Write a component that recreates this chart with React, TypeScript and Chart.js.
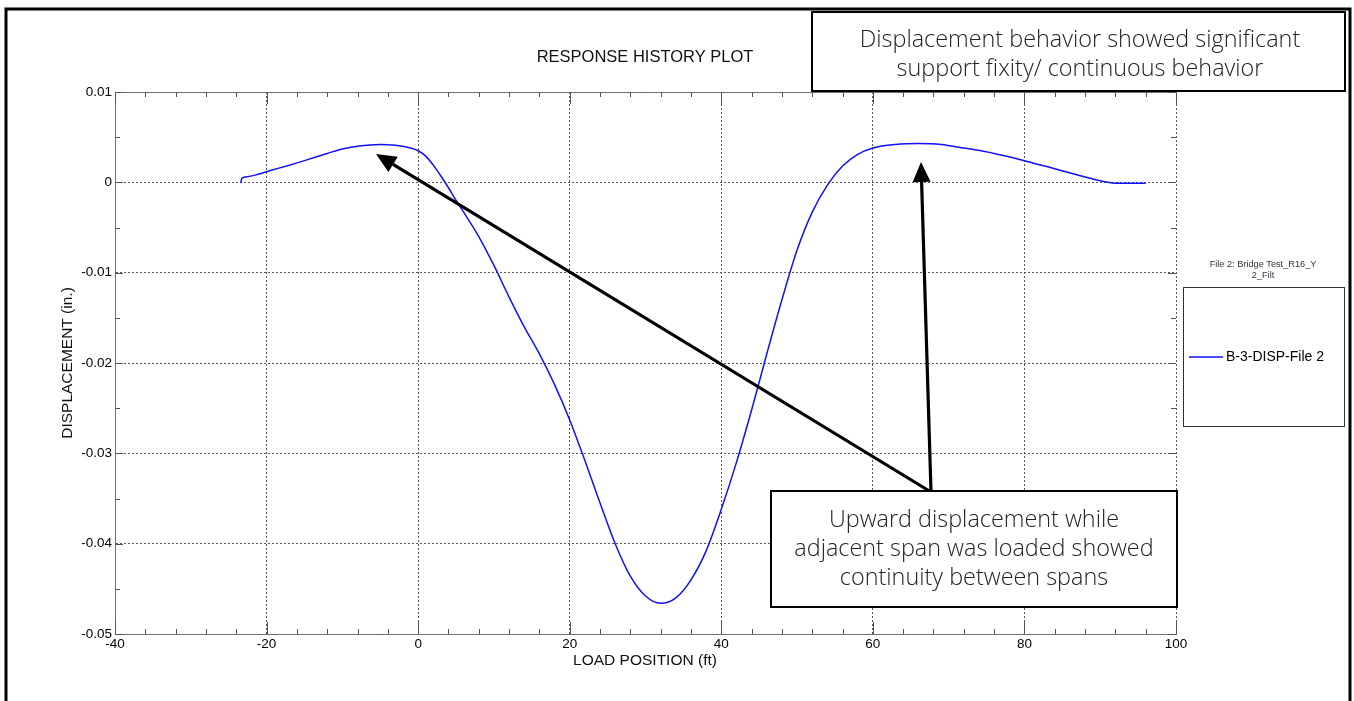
import React, { useEffect, useRef } from "react";
import { Chart, registerables } from "chart.js";

Chart.register(...registerables);

const loadPosition = [
  -23.4, -23.3, -22.8, -21.5, -19.5, -17, -15, -12, -10, -8, -5, -3, -1, 0, 1, 2, 3, 4, 5, 6, 8, 10, 12, 14,
  16, 18, 20, 22, 24, 26, 28, 30, 32, 34, 36, 38, 40, 42, 44, 46, 48, 50, 52, 54, 56, 58, 60, 63, 66, 69,
  72, 76, 80, 84, 88, 91, 92, 96,
];
const displacement = [
  -0.0001, 0.0004, 0.0006, 0.0008, 0.0013, 0.0019, 0.0024, 0.0032, 0.0037, 0.004, 0.0042, 0.0041, 0.0038,
  0.0035, 0.0029, 0.0019, 0.0007, -0.0006, -0.002, -0.0033, -0.006, -0.0092, -0.0127, -0.016, -0.019,
  -0.0224, -0.0263, -0.0308, -0.0355, -0.04, -0.0436, -0.0458, -0.0466, -0.046, -0.044, -0.0408, -0.0362,
  -0.031, -0.0252, -0.019, -0.013, -0.0075, -0.0033, -0.0003, 0.0018, 0.0031, 0.0038, 0.0042, 0.0043,
  0.0042, 0.0038, 0.0032, 0.0024, 0.0015, 0.0006, 0.0, -0.0001, -0.0001,
];

const X_MIN = -40;
const X_MAX = 100;
const X_STEP = 20;
const X_MINOR = 4;
const Y_MIN = -0.05;
const Y_MAX = 0.01;
const Y_STEP = 0.01;
const Y_MINOR = 0.005;

const chartTitle = "RESPONSE HISTORY PLOT";
const xTitle = "LOAD POSITION (ft)";
const yTitle = "DISPLACEMENT (in.)";
const legendTitle = ["File 2: Bridge Test_R16_Y", "2_Filt"];
const seriesName = "B-3-DISP-File 2";
const noteTop = ["Displacement behavior showed significant", "support fixity/ continuous behavior"];
const noteBottom = ["Upward displacement while", "adjacent span was loaded showed", "continuity between spans"];

const LINE_COLOR = "#1010ff";
const SANS = '"Liberation Sans", Arial, sans-serif';

function drawArrow(ctx: CanvasRenderingContext2D, x0: number, y0: number, x1: number, y1: number) {
  const ang = Math.atan2(y1 - y0, x1 - x0);
  const headLen = 20;
  const headW = 9;
  const bx = x1 - headLen * Math.cos(ang);
  const by = y1 - headLen * Math.sin(ang);
  ctx.save();
  ctx.strokeStyle = "#000";
  ctx.fillStyle = "#000";
  ctx.lineWidth = 3.2;
  ctx.beginPath();
  ctx.moveTo(x0, y0);
  ctx.lineTo(bx, by);
  ctx.stroke();
  ctx.beginPath();
  ctx.moveTo(x1, y1);
  ctx.lineTo(bx + headW * Math.sin(ang), by - headW * Math.cos(ang));
  ctx.lineTo(bx - headW * Math.sin(ang), by + headW * Math.cos(ang));
  ctx.closePath();
  ctx.fill();
  ctx.restore();
}

const decorPlugin = {
  id: "decor",
  beforeDraw(chart: any) {
    const ctx = chart.ctx as CanvasRenderingContext2D;
    ctx.save();
    ctx.fillStyle = "#fff";
    ctx.fillRect(0, 0, chart.width, chart.height);
    ctx.restore();
  },
  afterDraw(chart: any) {
    const ctx = chart.ctx as CanvasRenderingContext2D;
    const xs = chart.scales.x;
    const ys = chart.scales.y;
    const { left, right, top, bottom } = chart.chartArea;
    ctx.save();

    // solid top border
    ctx.strokeStyle = "#707070";
    ctx.lineWidth = 1;
    ctx.beginPath();
    ctx.moveTo(left, top + 0.5);
    ctx.lineTo(right, top + 0.5);
    ctx.stroke();

    // inward ticks
    ctx.strokeStyle = "#555";
    ctx.beginPath();
    for (let v = X_MIN; v <= X_MAX + 1e-9; v += X_MINOR) {
      const px = Math.round(xs.getPixelForValue(v)) + 0.5;
      const major = Math.abs(v % X_STEP) < 1e-9;
      const len = major ? 12 : 5;
      ctx.moveTo(px, bottom);
      ctx.lineTo(px, bottom - len);
      ctx.moveTo(px, top);
      ctx.lineTo(px, top + len);
    }
    const nY = Math.round((Y_MAX - Y_MIN) / Y_MINOR);
    for (let i = 0; i <= nY; i++) {
      const v = Y_MIN + i * Y_MINOR;
      const py = Math.round(ys.getPixelForValue(v)) + 0.5;
      const len = i % 2 === 0 ? 8 : 5;
      ctx.moveTo(left, py);
      ctx.lineTo(left + len, py);
      ctx.moveTo(right, py);
      ctx.lineTo(right - len, py);
    }
    ctx.stroke();

    // titles
    ctx.fillStyle = "#111";
    ctx.textAlign = "center";
    ctx.textBaseline = "middle";
    ctx.font = `16.5px ${SANS}`;
    ctx.fillText(chartTitle, 645, 57);
    ctx.font = `15.5px ${SANS}`;
    ctx.fillText(xTitle, 645, 661);
    ctx.save();
    ctx.translate(68, 363);
    ctx.rotate(-Math.PI / 2);
    ctx.fillText(yTitle, 0, 0);
    ctx.restore();

    // legend
    ctx.fillStyle = "#333344";
    ctx.font = `9.2px ${SANS}`;
    ctx.fillText(legendTitle[0], 1263, 264);
    ctx.fillText(legendTitle[1], 1263, 275);
    ctx.strokeStyle = "#333";
    ctx.lineWidth = 1;
    ctx.strokeRect(1183.5, 287.5, 161, 139);
    ctx.strokeStyle = LINE_COLOR;
    ctx.lineWidth = 1.6;
    ctx.beginPath();
    ctx.moveTo(1189, 357);
    ctx.lineTo(1223, 357);
    ctx.stroke();
    ctx.fillStyle = "#000";
    ctx.font = `14px ${SANS}`;
    ctx.textAlign = "left";
    ctx.fillText(seriesName, 1226, 357);

    // arrows
    drawArrow(ctx, 931, 492, 376, 154);
    drawArrow(ctx, 931, 492, 921, 162);

    // note boxes
    ctx.fillStyle = "#fff";
    ctx.fillRect(812, 12, 533, 79);
    ctx.fillRect(771, 491, 406, 116);
    ctx.strokeStyle = "#000";
    ctx.lineWidth = 2;
    ctx.strokeRect(812, 12, 533, 79);
    ctx.strokeRect(771, 491, 406, 116);

    ctx.fillStyle = "#222";
    ctx.font = '300 23.4px "Open Sans", "DejaVu Sans", sans-serif';
    ctx.textAlign = "center";
    ctx.fillText(noteTop[0], 1080, 40);
    ctx.fillText(noteTop[1], 1080, 69);
    noteBottom.forEach((t, i) => ctx.fillText(t, 974, 520 + i * 29));

    // outer frame
    ctx.strokeStyle = "#000";
    ctx.lineWidth = 3;
    ctx.strokeRect(6, 9, 1344, 800);
    ctx.restore();
  },
};

export default function App() {
  const ref = useRef<HTMLCanvasElement | null>(null);
  useEffect(() => {
    if (!ref.current) return;
    const points = loadPosition.map((x, i) => ({ x, y: displacement[i] }));
    const tickFont = { family: SANS, size: 13.5 };
    const chart = new Chart(ref.current, {
      type: "line",
      data: {
        datasets: [
          {
            label: seriesName,
            data: points,
            borderColor: LINE_COLOR,
            borderWidth: 1.5,
            pointRadius: 0,
            fill: false,
            cubicInterpolationMode: "monotone",
          },
        ],
      },
      options: {
        animation: false,
        responsive: false,
        devicePixelRatio: 1,
        layout: { padding: { left: 0, top: 92, right: 178, bottom: 37 } },
        plugins: { legend: { display: false }, title: { display: false }, tooltip: { enabled: false } },
        scales: {
          x: {
            type: "linear",
            min: X_MIN,
            max: X_MAX,
            afterFit: (s: any) => {
              s.height = 30;
            },
            ticks: {
              stepSize: X_STEP,
              color: "#000",
              font: tickFont,
              padding: 2,
              maxRotation: 0,
              callback: (v: any) => String(Math.round(Number(v))),
            },
            grid: { color: "#555", drawTicks: false, tickLength: 0 } as any,
            border: { display: true, color: "#707070", width: 1, dash: [2, 2] } as any,
          },
          y: {
            type: "linear",
            min: Y_MIN,
            max: Y_MAX,
            afterFit: (s: any) => {
              s.width = 115;
            },
            ticks: {
              stepSize: Y_STEP,
              color: "#000",
              font: tickFont,
              padding: 3,
              callback: (v: any) => {
                const r = Math.round(Number(v) * 100) / 100;
                return r === 0 ? "0" : String(r);
              },
            },
            grid: { color: "#555", drawTicks: false, tickLength: 0 } as any,
            border: { display: true, color: "#707070", width: 1, dash: [2, 2] } as any,
          },
        },
      } as any,
      plugins: [decorPlugin],
    });
    return () => chart.destroy();
  }, []);
  return (
    <div style={{ position: "absolute", left: 0, top: 0, width: 1354, height: 701, background: "#fff" }}>
      <canvas ref={ref} width={1354} height={701} style={{ display: "block" }} />
    </div>
  );
}
